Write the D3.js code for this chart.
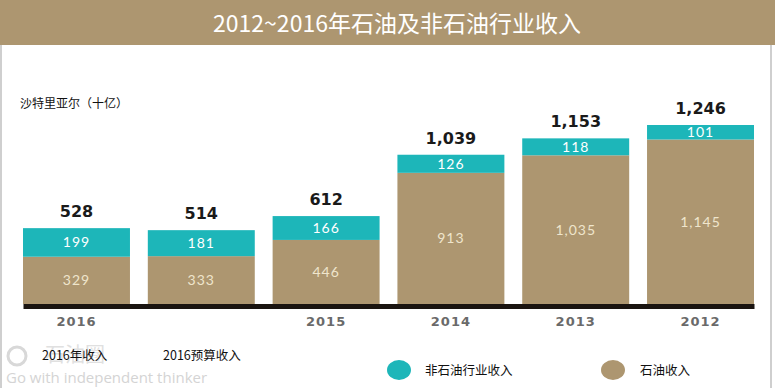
<!DOCTYPE html>
<html>
<head>
<meta charset="utf-8">
<script src="https://cdn.jsdelivr.net/npm/d3@7"></script>
<style>
  body { margin: 0; background: #fff; }
  svg { display: block; }
</style>
</head>
<body>
<div id="chart"></div>
<script>
// data
var categories = ["2016", "2016b", "2015", "2014", "2013", "2012"];
var yearLabels = ["2016", "", "2015", "2014", "2013", "2012"];
var oilValues = [329, 333, 446, 913, 1035, 1145];
var nonOilValues = [199, 181, 166, 126, 118, 101];
var totalLabels = ["528", "514", "612", "1,039", "1,153", "1,246"];
var oilLabels = ["329", "333", "446", "913", "1,035", "1,145"];
var nonOilLabels = ["199", "181", "166", "126", "118", "101"];

var width = 775, height = 388;
var tan = "#ad9670", teal = "#1db6b9";

var svg = d3.select("#chart")
  .append("svg")
    .attr("width", width)
    .attr("height", height);

// frame + title bar
svg.append("rect")
  .attr("x", 1).attr("y", 44).attr("width", 770).attr("height", 350)
  .attr("fill", "none").attr("stroke", "#cfcfcf").attr("stroke-width", 2);
svg.append("rect")
  .attr("x", 0).attr("y", 0).attr("width", width).attr("height", 45)
  .attr("fill", "#ad9670");
svg.append("text")
  .attr("x", 397).attr("y", 32)
  .attr("text-anchor", "middle")
  .attr("font-family", "Noto Sans CJK SC")
  .attr("font-size", 23)
  .attr("fill", "#fff")
  .text("2012~2016年石油及非石油行业收入");

// unit label
svg.append("text")
  .attr("x", 20).attr("y", 108)
  .attr("font-family", "Noto Sans CJK SC")
  .attr("font-size", 12)
  .attr("fill", "#111")
  .text("沙特里亚尔（十亿）");

// scales
var x = d3.scaleBand()
  .domain(categories)
  .range([23, 754])
  .paddingInner(0.143)
  .paddingOuter(0);

var y = d3.scaleLinear()
  .domain([0, 1246])
  .range([304, 125]);

var data = categories.map(function (c, i) {
  return { cat: c, oil: oilValues[i], nonOil: nonOilValues[i], i: i };
});

// oil bars
svg.append("g")
  .selectAll("rect")
  .data(data)
  .enter()
  .append("rect")
    .attr("x", function (d) { return x(d.cat); })
    .attr("y", function (d) { return y(d.oil); })
    .attr("width", x.bandwidth())
    .attr("height", function (d) { return y(0) - y(d.oil); })
    .attr("fill", tan);

// non-oil bars
svg.append("g")
  .selectAll("rect")
  .data(data)
  .enter()
  .append("rect")
    .attr("x", function (d) { return x(d.cat); })
    .attr("y", function (d) { return y(d.oil + d.nonOil); })
    .attr("width", x.bandwidth())
    .attr("height", function (d) { return y(d.oil) - y(d.oil + d.nonOil); })
    .attr("fill", teal);

// segment labels
svg.append("g")
  .selectAll("text")
  .data(data)
  .enter()
  .append("text")
    .attr("x", function (d) { return x(d.cat) + x.bandwidth() / 2; })
    .attr("y", function (d) { return (y(d.oil) + y(0)) / 2 + 5; })
    .attr("text-anchor", "middle")
    .attr("font-family", "Lato")
    .attr("font-size", 14)
    .attr("letter-spacing", 1)
    .attr("fill", "#efe5cc")
    .text(function (d) { return oilLabels[d.i]; });

svg.append("g")
  .selectAll("text")
  .data(data)
  .enter()
  .append("text")
    .attr("x", function (d) { return x(d.cat) + x.bandwidth() / 2; })
    .attr("y", function (d) { return (y(d.oil) + y(d.oil + d.nonOil)) / 2 + 5; })
    .attr("text-anchor", "middle")
    .attr("font-family", "Lato")
    .attr("font-size", 14)
    .attr("letter-spacing", 1)
    .attr("fill", "#ffffff")
    .text(function (d) { return nonOilLabels[d.i]; });

// totals
svg.append("g")
  .selectAll("text")
  .data(data)
  .enter()
  .append("text")
    .attr("x", function (d) { return x(d.cat) + x.bandwidth() / 2; })
    .attr("y", function (d) { return y(d.oil + d.nonOil) - 11; })
    .attr("text-anchor", "middle")
    .attr("font-family", "DejaVu Sans")
    .attr("font-weight", "bold")
    .attr("font-size", 16)
    .attr("fill", "#1a1a1a")
    .text(function (d) { return totalLabels[d.i]; });

// x axis (baseline + year labels)
var xAxis = svg.append("g")
  .attr("transform", "translate(0," + 306 + ")")
  .call(d3.axisBottom(x)
    .tickSize(0)
    .tickPadding(11)
    .tickFormat(function (d, i) { return yearLabels[i]; }));
xAxis.select(".domain")
  .attr("stroke", "#1a1410")
  .attr("stroke-width", 5);
xAxis.selectAll("text")
  .attr("font-family", "DejaVu Sans")
  .attr("font-weight", "bold")
  .attr("font-size", 13)
  .attr("letter-spacing", 1)
  .attr("fill", "#6a6a6a");

// watermark
svg.append("circle")
  .attr("cx", 17).attr("cy", 356).attr("r", 9)
  .attr("fill", "none").attr("stroke", "#d8d8d8").attr("stroke-width", 3);
svg.append("text")
  .attr("x", 45).attr("y", 362)
  .attr("font-family", "Noto Sans CJK SC")
  .attr("font-size", 20)
  .attr("fill", "#e0e0e0")
  .text("石油圈");
svg.append("text")
  .attr("x", 6).attr("y", 383)
  .attr("font-family", "Open Sans")
  .attr("font-size", 15)
  .attr("fill", "#d4d4d4")
  .text("Go with independent thinker");

// legend
svg.append("text")
  .attr("x", 42).attr("y", 360)
  .attr("font-family", "Noto Sans CJK SC")
  .attr("font-size", 12.5)
  .attr("fill", "#111")
  .text("2016年收入");
svg.append("text")
  .attr("x", 163).attr("y", 360)
  .attr("font-family", "Noto Sans CJK SC")
  .attr("font-size", 12.5)
  .attr("fill", "#111")
  .text("2016预算收入");

var legendItems = [
  { label: "非石油行业收入", color: teal, cx: 399, tx: 425 },
  { label: "石油收入", color: tan, cx: 613, tx: 640 }
];
var legend = svg.append("g")
  .selectAll("g")
  .data(legendItems)
  .enter()
  .append("g");
legend.append("ellipse")
  .attr("cx", function (d) { return d.cx; })
  .attr("cy", 370)
  .attr("rx", 12).attr("ry", 10)
  .attr("fill", function (d) { return d.color; });
legend.append("text")
  .attr("x", function (d) { return d.tx; })
  .attr("y", 375)
  .attr("font-family", "Noto Sans CJK SC")
  .attr("font-size", 12.5)
  .attr("fill", "#111")
  .text(function (d) { return d.label; });
</script>
</body>
</html>
